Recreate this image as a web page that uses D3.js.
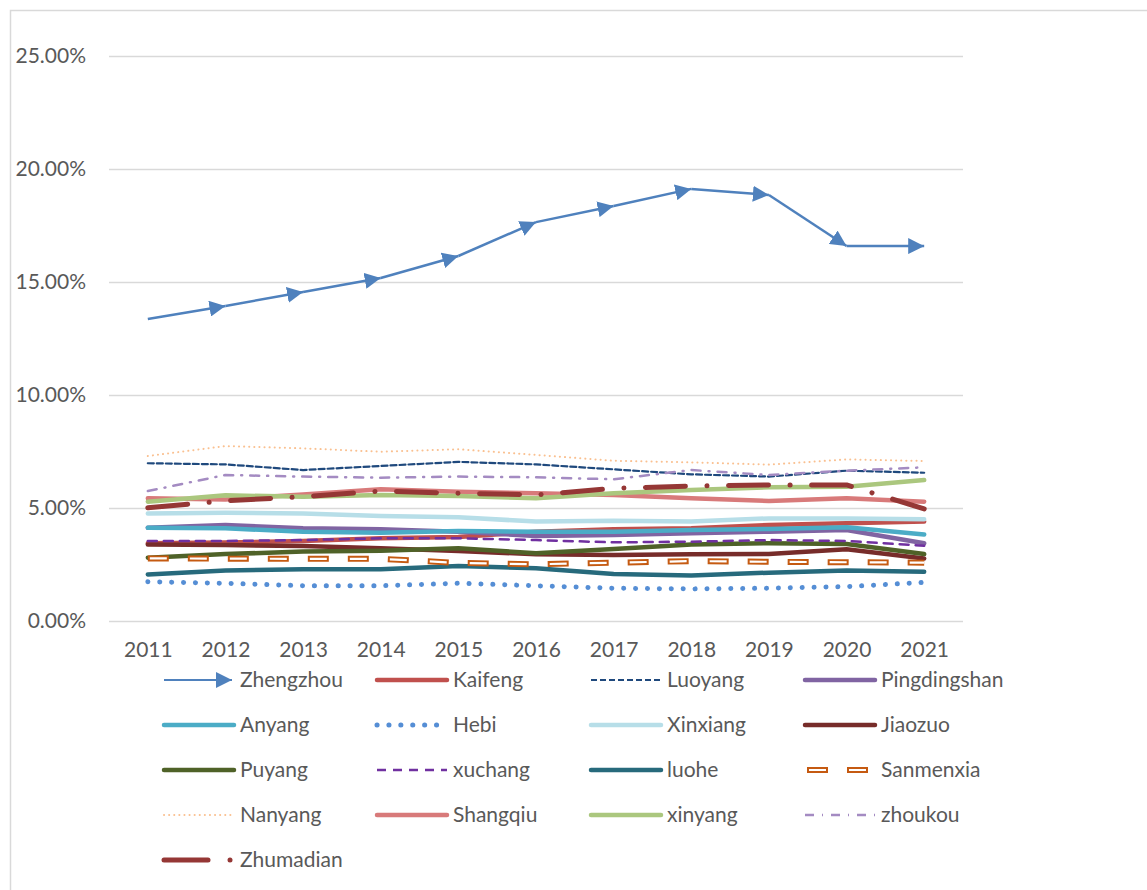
<!DOCTYPE html>
<html>
<head>
<meta charset="utf-8">
<script src="https://cdn.jsdelivr.net/npm/d3@7"></script>
<style>
  body { margin: 0; background: #fff; }
  svg { display: block; }
  text { font-family: Lato, "Open Sans", sans-serif; fill: #595959; }
</style>
</head>
<body>
<svg width="1147" height="890"></svg>
<script>
var years = ["2011","2012","2013","2014","2015","2016","2017","2018","2019","2020","2021"]
var yTicks = [0, 0.05, 0.10, 0.15, 0.20, 0.25]

// shares in percent
var zhengzhou    = [13.36, 13.94, 14.56, 15.18, 16.15, 17.65, 18.36, 19.12, 18.85, 16.59, 16.59]
var kaifeng      = [3.44, 3.47, 3.54, 3.66, 3.72, 3.95, 4.06, 4.10, 4.25, 4.32, 4.40]
var luoyang      = [6.98, 6.93, 6.68, 6.86, 7.04, 6.93, 6.71, 6.49, 6.39, 6.65, 6.56]
var pingdingshan = [4.13, 4.25, 4.10, 4.06, 3.95, 3.76, 3.80, 3.88, 3.95, 4.03, 3.44]
var anyang       = [4.13, 4.10, 3.95, 3.91, 3.98, 3.95, 3.95, 4.03, 4.07, 4.15, 3.83]
var hebi         = [1.74, 1.67, 1.56, 1.56, 1.67, 1.56, 1.45, 1.42, 1.45, 1.52, 1.71]
var xinxiang     = [4.76, 4.79, 4.76, 4.65, 4.59, 4.40, 4.44, 4.40, 4.54, 4.54, 4.50]
var jiaozuo      = [3.39, 3.36, 3.32, 3.22, 3.10, 2.95, 2.92, 2.95, 2.96, 3.17, 2.77]
var puyang       = [2.80, 2.96, 3.07, 3.11, 3.22, 3.00, 3.19, 3.39, 3.44, 3.41, 2.96]
var xuchang      = [3.54, 3.54, 3.58, 3.66, 3.66, 3.58, 3.48, 3.51, 3.58, 3.54, 3.33]
var luohe        = [2.06, 2.23, 2.29, 2.29, 2.43, 2.33, 2.08, 2.01, 2.14, 2.23, 2.18]
var sanmenxia    = [2.77, 2.76, 2.75, 2.75, 2.57, 2.51, 2.58, 2.65, 2.62, 2.60, 2.58]
var nanyang      = [7.30, 7.74, 7.64, 7.49, 7.60, 7.35, 7.09, 7.02, 6.92, 7.15, 7.08]
var shangqiu     = [5.43, 5.38, 5.60, 5.83, 5.72, 5.65, 5.58, 5.43, 5.31, 5.43, 5.28]
var xinyang      = [5.28, 5.56, 5.50, 5.58, 5.53, 5.43, 5.65, 5.80, 5.92, 5.94, 6.24]
var zhoukou      = [5.75, 6.46, 6.39, 6.34, 6.39, 6.36, 6.27, 6.68, 6.46, 6.65, 6.80]
var zhumadian    = [5.01, 5.32, 5.50, 5.75, 5.65, 5.58, 5.87, 5.97, 6.02, 6.02, 4.96]

var cities = [
    {name: "Zhengzhou",    values: zhengzhou,    color: "#4F81BD", width: 2.5, arrow: true},
    {name: "Kaifeng",      values: kaifeng,      color: "#C0504D", width: 4.5},
    {name: "Luoyang",      values: luoyang,      color: "#1F497D", width: 2.2, dash: "6,3"},
    {name: "Pingdingshan", values: pingdingshan, color: "#8064A2", width: 4.5},
    {name: "Anyang",       values: anyang,       color: "#4BACC6", width: 4.5},
    {name: "Hebi",         values: hebi,         color: "#558ED5", width: 5, dash: "0.1,11.8", cap: "round"},
    {name: "Xinxiang",     values: xinxiang,     color: "#B7DEE8", width: 4.5},
    {name: "Jiaozuo",      values: jiaozuo,      color: "#772C2A", width: 4.5},
    {name: "Puyang",       values: puyang,       color: "#4F6228", width: 4.5},
    {name: "xuchang",      values: xuchang,      color: "#7030A0", width: 2.5, dash: "9,7"},
    {name: "luohe",        values: luohe,        color: "#276A7C", width: 4.5},
    {name: "Sanmenxia",    values: sanmenxia,    color: "#C55A11", width: 6, dash: "21,19", hollow: true},
    {name: "Nanyang",      values: nanyang,      color: "#FAC090", width: 2, dash: "0.1,5", cap: "round"},
    {name: "Shangqiu",     values: shangqiu,     color: "#D87A7A", width: 4.5},
    {name: "xinyang",      values: xinyang,      color: "#ABC77E", width: 4.5},
    {name: "zhoukou",      values: zhoukou,      color: "#A48BC2", width: 2.5, dash: "9,8,1,8"},
    {name: "Zhumadian",    values: zhumadian,    color: "#953735", width: 5, dash: "40,21.5,0.1,21.5", cap: "round"}
]

var svg = d3.select("svg")

var plot_left = 109, plot_right = 963
var plot_top = 56, plot_bottom = 621

var xScale = d3.scalePoint().domain(years).range([plot_left, plot_right]).padding(0.5)
var yScale = d3.scaleLinear().domain([0, 0.25]).range([plot_bottom, plot_top])

// chart frame
svg.append("rect")
    .attr("x", 10.5).attr("y", 10.5)
    .attr("width", 1160).attr("height", 900)
    .attr("fill", "none")
    .attr("stroke", "#D9D9D9")
    .attr("stroke-width", 1.5)

// gridlines + y labels
var yAxis = d3.axisLeft(yScale)
    .tickValues(yTicks)
    .tickSize(-(plot_right - plot_left))
    .tickPadding(23)
    .tickFormat(d3.format(".2%"))

var gy = svg.append("g")
    .attr("transform", "translate(" + plot_left + ",0)")
    .call(yAxis)
gy.select(".domain").remove()
gy.selectAll("line").attr("stroke", "#D9D9D9").attr("stroke-width", 1.3)
gy.selectAll("text").attr("font-size", 21).attr("fill", "#595959")
    .style("font-family", "Lato, 'Open Sans', sans-serif")

var xAxis = d3.axisBottom(xScale).tickSize(0).tickPadding(21)
var gx = svg.append("g")
    .attr("transform", "translate(0," + plot_bottom + ")")
    .call(xAxis)
gx.select(".domain").remove()
gx.selectAll("text").attr("font-size", 21).attr("fill", "#595959")
    .style("font-family", "Lato, 'Open Sans', sans-serif")

// arrow head for Zhengzhou
svg.append("defs").append("marker")
    .attr("id", "arrow")
    .attr("markerUnits", "userSpaceOnUse")
    .attr("markerWidth", 16).attr("markerHeight", 16)
    .attr("viewBox", "0 0 10 10")
    .attr("refX", 10).attr("refY", 5)
    .attr("orient", "auto")
    .append("path")
    .attr("d", "M0,0 L10,5 L0,10 z")
    .attr("fill", "#4F81BD")

var line = d3.line()
    .x((d, i) => xScale(years[i]))
    .y(d => yScale(d / 100))

function drawCity(g, c) {
    if (c.arrow) {
        c.values.forEach(function(v, i) {
            if (i == 0) return
            g.append("path")
                .attr("d", line.x((d, j) => xScale(years[i - 1 + j]))([c.values[i - 1], v]))
                .attr("fill", "none")
                .attr("stroke", c.color)
                .attr("stroke-width", c.width)
                .attr("marker-end", "url(#arrow)")
        })
        line.x((d, i) => xScale(years[i]))
        return
    }
    var p = g.append("path")
        .attr("d", line(c.values))
        .attr("fill", "none")
        .attr("stroke", c.color)
        .attr("stroke-width", c.width)
        .attr("stroke-linejoin", "round")
        .attr("stroke-linecap", c.cap || "round")
    if (c.dash) p.attr("stroke-dasharray", c.dash)
    if (c.hollow) {
        p.attr("stroke-linecap", "butt")
        g.append("path")
            .attr("d", line(c.values))
            .attr("fill", "none")
            .attr("stroke", "#fff")
            .attr("stroke-width", 2.2)
            .attr("stroke-dasharray", "17,23")
            .attr("stroke-dashoffset", -2)
    }
}

var series = svg.append("g")
cities.forEach(function(c) {
    drawCity(series.append("g"), c)
})

// legend, 4 columns
var legend = svg.append("g")
var col_x = [164, 377, 591, 805]
var row_y0 = 680, row_step = 45

cities.forEach(function(c, i) {
    var lx = col_x[i % 4]
    var ly = row_y0 + Math.floor(i / 4) * row_step
    var item = legend.append("g")
    if (c.arrow) {
        item.append("line")
            .attr("x1", lx).attr("x2", lx + 68)
            .attr("y1", ly).attr("y2", ly)
            .attr("stroke", c.color).attr("stroke-width", 2)
            .attr("marker-end", "url(#arrow)")
    } else if (c.name == "Zhumadian") {
        item.append("line")
            .attr("x1", lx).attr("x2", lx + 44)
            .attr("y1", ly).attr("y2", ly)
            .attr("stroke", c.color).attr("stroke-width", c.width)
            .attr("stroke-linecap", "round")
        item.append("circle")
            .attr("cx", lx + 66).attr("cy", ly).attr("r", 2.5)
            .attr("fill", c.color)
    } else {
        var l = item.append("line")
            .attr("x1", lx).attr("x2", lx + 70)
            .attr("y1", ly).attr("y2", ly)
            .attr("stroke", c.color)
            .attr("stroke-width", c.width)
            .attr("stroke-linecap", c.cap || "round")
        if (c.dash) l.attr("stroke-dasharray", c.dash)
        if (c.name == "Luoyang" || c.name == "xuchang" || c.name == "zhoukou") l.attr("stroke-linecap", "butt")
        if (c.hollow) {
            l.attr("x1", lx + 2).attr("stroke-linecap", "butt")
            item.append("line")
                .attr("x1", lx + 4).attr("x2", lx + 70)
                .attr("y1", ly).attr("y2", ly)
                .attr("stroke", "#fff").attr("stroke-width", 2.2)
                .attr("stroke-dasharray", "17,23")
        }
    }
    item.append("text")
        .attr("x", lx + 76)
        .attr("y", ly)
        .attr("dy", "0.35em")
        .attr("font-size", 21)
        .text(c.name)
})
</script>
</body>
</html>
